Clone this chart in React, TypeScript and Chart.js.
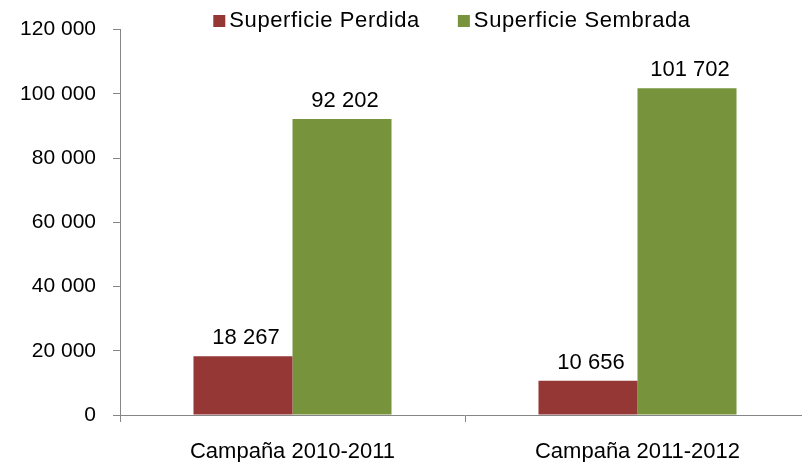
import React, { useEffect, useRef } from "react";
import { Chart, registerables } from "chart.js";

Chart.register(...registerables);

const categories = ["Campaña 2010-2011", "Campaña 2011-2012"];
const seriesNames = ["Superficie Perdida", "Superficie Sembrada"];
const perdida = [18267, 10656];
const sembrada = [92202, 101702];
const colors = ["#953735", "#77933C"];
const yMax = 120000;
const yStep = 20000;

const FONT = '"Liberation Sans", Arial, sans-serif';
const AXIS = "#868686";

const fmt = (v: number) =>
  String(Math.round(v)).replace(/\B(?=(\d{3})+(?!\d))/g, " ");

const labelsPlugin = {
  id: "valueLabels",
  afterDatasetsDraw(chart: any) {
    const ctx = chart.ctx;
    ctx.save();
    ctx.font = `22px ${FONT}`;
    ctx.fillStyle = "#000";
    ctx.textAlign = "center";
    ctx.textBaseline = "alphabetic";
    chart.data.datasets.forEach((ds: any, i: number) => {
      const meta = chart.getDatasetMeta(i);
      meta.data.forEach((bar: any, j: number) => {
        ctx.fillText(fmt(ds.data[j]), bar.x + 3, bar.y - 12);
      });
    });
    ctx.restore();
  },
};

const legendPlugin = {
  id: "customLegend",
  afterDraw(chart: any) {
    const ctx = chart.ctx;
    ctx.save();
    ctx.font = `22px ${FONT}`;
    (ctx as any).letterSpacing = "0.6px";
    ctx.textBaseline = "middle";
    ctx.textAlign = "left";
    const box = 12;
    const gapBox = 4;
    const gapItem = 38;
    const widths = seriesNames.map((n) => ctx.measureText(n).width);
    const total =
      widths.reduce((a, b) => a + b, 0) + seriesNames.length * (box + gapBox) + gapItem * (seriesNames.length - 1);
    const center = (chart.chartArea.left + chart.chartArea.right) / 2 - 13;
    let x = center - total / 2;
    const y = 21;
    seriesNames.forEach((n, i) => {
      ctx.fillStyle = colors[i];
      ctx.fillRect(x, y - box / 2, box, box);
      x += box + gapBox;
      ctx.fillStyle = "#000";
      ctx.fillText(n, x, y);
      x += widths[i] + gapItem;
    });
    ctx.restore();
  },
};

export default function App() {
  const ref = useRef<HTMLCanvasElement>(null);
  useEffect(() => {
    if (!ref.current) return;
    const chart = new Chart(ref.current, {
      type: "bar",
      data: {
        labels: categories,
        datasets: [
          { label: seriesNames[0], data: perdida, backgroundColor: colors[0] },
          { label: seriesNames[1], data: sembrada, backgroundColor: colors[1] },
        ],
      },
      options: {
        responsive: false,
        animation: false,
        layout: { padding: { top: 25, right: 2, left: 0, bottom: 0 } },
        datasets: {
          bar: { categoryPercentage: 0.574, barPercentage: 1 },
        },
        plugins: {
          legend: { display: false },
          tooltip: { enabled: false },
        },
        scales: {
          x: {
            grid: {
              offset: true,
              drawOnChartArea: false,
              drawTicks: true,
              tickLength: 7,
              color: AXIS,
            },
            border: { display: true, color: AXIS, width: 1 },
            ticks: {
              color: "#000",
              font: { family: FONT, size: 22 },
              padding: 17,
              maxRotation: 0,
            },
            afterFit(scale: any) {
              scale.height = 47;
            },
          },
          y: {
            min: 0,
            max: yMax,
            grid: {
              drawOnChartArea: false,
              drawTicks: true,
              tickLength: 7,
              color: AXIS,
            },
            border: { display: true, color: AXIS, width: 1 },
            ticks: {
              stepSize: yStep,
              color: "#000",
              font: { family: FONT, size: 21 },
              padding: 17,
              callback: (v: any) => fmt(Number(v)),
            },
            afterFit(scale: any) {
              scale.width = 120;
            },
          },
        },
      },
      plugins: [labelsPlugin, legendPlugin],
    });
    return () => chart.destroy();
  }, []);
  return (
    <div
      style={{
        position: "absolute",
        left: 0,
        top: 0,
        width: 802,
        height: 462,
        overflow: "hidden",
        background: "#fff",
      }}
    >
      <canvas ref={ref} width={812} height={462} style={{ display: "block" }} />
    </div>
  );
}
